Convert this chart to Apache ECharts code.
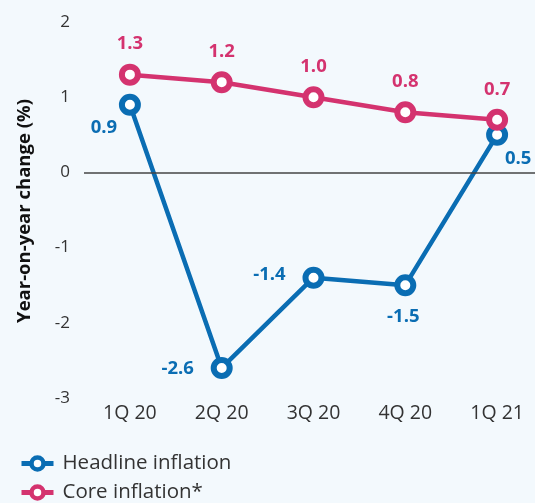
<!DOCTYPE html>
<html><head><meta charset="utf-8">
<script src="https://cdn.jsdelivr.net/npm/echarts@6/dist/echarts.min.js"></script>
<style>html,body{margin:0;padding:0;background:#f3f9fd;}#c{width:535px;height:503px;}</style>
</head><body><div id="c"></div>
<script>
const categories = ['1Q 20','2Q 20','3Q 20','4Q 20','1Q 21'];
const headline = [0.9, -2.6, -1.4, -1.5, 0.5];
const core = [1.3, 1.2, 1.0, 0.8, 0.7];
const seriesNames = ['Headline inflation','Core inflation*'];
const yTitle = 'Year-on-year change (%)';

const blue = '#0a6db3', pink = '#d4336f';
const headlineOffsets = [[-26,23],[-44,1],[-44,-3],[-2,32],[21,24]];
const font = '"Open Sans", "Noto Sans", sans-serif';

const legendBase = {
  orient: 'vertical', left: 14, itemWidth: 32, itemHeight: 15,
  textStyle: {fontSize: 20.5, color: '#333', fontFamily: font, padding: [0,0,0,4]},
  lineStyle: {width: 5}, itemStyle: {borderWidth: 4.5}
};

const chart = echarts.init(document.getElementById('c'));
chart.setOption({
  backgroundColor: '#f3f9fd',
  animation: false,
  textStyle: {fontFamily: font},
  grid: {left: 84, width: 459, top: 22, bottom: 105, outerBoundsMode: 'none', containLabel: false},
  legend: [
    Object.assign({}, legendBase, {top: 448, data: [seriesNames[0]]}),
    Object.assign({}, legendBase, {top: 477, data: [seriesNames[1]]})
  ],
  xAxis: {
    type: 'category', data: categories,
    axisLine: {show: false}, axisTick: {show: false},
    axisLabel: {fontSize: 19.5, color: '#333', margin: 5, fontFamily: font}
  },
  yAxis: {
    type: 'value', min: -3, max: 2, interval: 1,
    splitLine: {show: false},
    axisLabel: {fontSize: 17, color: '#333', margin: 14, fontFamily: font}
  },
  graphic: [{
    type: 'text', x: 25, y: 211, rotation: Math.PI/2,
    style: {text: yTitle, fontSize: 18.5, fontWeight: 'bold', fill: '#111', fontFamily: font,
      align: 'center', verticalAlign: 'middle'}
  }],
  series: [
    {
      name: seriesNames[0], type: 'line', color: blue,
      data: headline.map((v,i) => ({value: v, label: {offset: headlineOffsets[i]}})),
      symbol: 'circle', symbolSize: 16,
      lineStyle: {color: blue, width: 4.5},
      itemStyle: {color: '#ffffff', borderColor: blue, borderWidth: 6},
      label: {show: true, position: 'inside', color: blue, fontSize: 18.5, fontWeight: 'bold',
        fontFamily: font, formatter: p => p.value.toFixed(1)},
      markLine: {
        silent: true, symbol: 'none', label: {show: false},
        lineStyle: {color: '#444', width: 1.5, type: 'solid'},
        data: [{yAxis: 0}]
      },
      z: 3
    },
    {
      name: seriesNames[1], type: 'line', color: pink,
      data: core,
      symbol: 'circle', symbolSize: 16,
      lineStyle: {color: pink, width: 4.5},
      itemStyle: {color: '#ffffff', borderColor: pink, borderWidth: 6},
      label: {show: true, position: 'top', distance: 10, color: pink, fontSize: 18.5, fontWeight: 'bold',
        fontFamily: font, formatter: p => p.value.toFixed(1)},
      z: 4
    }
  ]
});
</script></body></html>
